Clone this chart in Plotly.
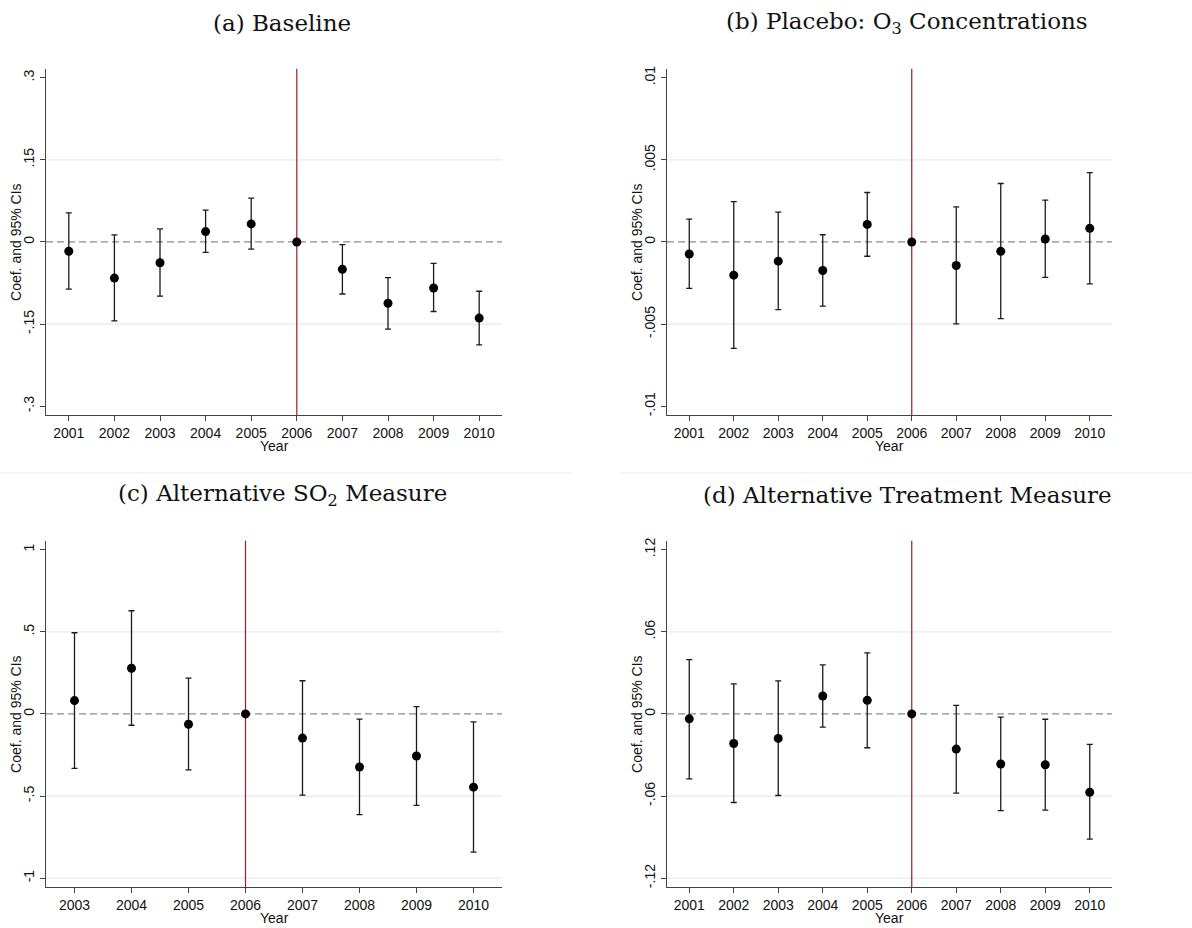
import plotly.graph_objects as go

# ---------------- data ----------------
# (a) Baseline
years_a = [2001, 2002, 2003, 2004, 2005, 2006, 2007, 2008, 2009, 2010]
coef_a = [-0.017, -0.066, -0.038, 0.019, 0.033, 0.0, -0.050, -0.112, -0.084, -0.139]
lo_a = [-0.086, -0.144, -0.099, -0.019, -0.013, 0.0, -0.095, -0.159, -0.127, -0.188]
hi_a = [0.053, 0.013, 0.024, 0.058, 0.080, 0.0, -0.005, -0.065, -0.039, -0.090]
ticks_a = [-0.3, -0.15, 0, 0.15, 0.3]
ticktext_a = ["-.3", "-.15", "0", ".15", ".3"]

# (b) Placebo: O3 concentrations
years_b = [2001, 2002, 2003, 2004, 2005, 2006, 2007, 2008, 2009, 2010]
coef_b = [-0.00073, -0.00202, -0.00117, -0.00174, 0.00107, 0.0, -0.00143, -0.00057, 0.00018, 0.00083]
lo_b = [-0.00283, -0.00648, -0.00412, -0.00390, -0.00087, 0.0, -0.00499, -0.00467, -0.00216, -0.00255]
hi_b = [0.00139, 0.00246, 0.00182, 0.00044, 0.00301, 0.0, 0.00214, 0.00356, 0.00255, 0.00422]
ticks_b = [-0.01, -0.005, 0, 0.005, 0.01]
ticktext_b = ["-.01", "-.005", "0", ".005", ".01"]

# (c) Alternative SO2 measure
years_c = [2003, 2004, 2005, 2006, 2007, 2008, 2009, 2010]
coef_c = [0.081, 0.278, -0.063, 0.0, -0.147, -0.323, -0.256, -0.446]
lo_c = [-0.331, -0.069, -0.341, 0.0, -0.494, -0.613, -0.557, -0.841]
hi_c = [0.494, 0.628, 0.218, 0.0, 0.202, -0.032, 0.044, -0.048]
ticks_c = [-1, -0.5, 0, 0.5, 1]
ticktext_c = ["-1", "-.5", "0", ".5", "1"]

# (d) Alternative treatment measure
years_d = [2001, 2002, 2003, 2004, 2005, 2006, 2007, 2008, 2009, 2010]
coef_d = [-0.0036, -0.0216, -0.0179, 0.0131, 0.0099, 0.0, -0.0257, -0.0366, -0.0371, -0.0572]
lo_d = [-0.0475, -0.0647, -0.0596, -0.0097, -0.0247, 0.0, -0.0579, -0.0707, -0.0703, -0.0915]
hi_d = [0.0397, 0.0220, 0.0242, 0.0358, 0.0446, 0.0, 0.0063, -0.0024, -0.0039, -0.0223]
ticks_d = [-0.12, -0.06, 0, 0.06, 0.12]
ticktext_d = ["-.12", "-.06", "0", ".06", ".12"]

titles = [
    "(a) Baseline",
    "(b) Placebo: O<sub>3</sub> Concentrations",
    "(c) Alternative SO<sub>2</sub> Measure",
    "(d) Alternative Treatment Measure",
]
event_year = 2006

# ---------------- layout geometry (pixels) ----------------
W, H = 1192, 928
panels = [
    dict(years=years_a, coef=coef_a, lo=lo_a, hi=hi_a, ticks=ticks_a, tt=ticktext_a,
         x0=46, x1=502, top=66, bot=414, tx=282, ty=20, ytx=16),
    dict(years=years_b, coef=coef_b, lo=lo_b, hi=hi_b, ticks=ticks_b, tt=ticktext_b,
         x0=667, x1=1112, top=66, bot=414, tx=907, ty=20, ytx=637),
    dict(years=years_c, coef=coef_c, lo=lo_c, hi=hi_c, ticks=ticks_c, tt=ticktext_c,
         x0=46, x1=502, top=540, bot=888, tx=282, ty=494, ytx=16),
    dict(years=years_d, coef=coef_d, lo=lo_d, hi=hi_d, ticks=ticks_d, tt=ticktext_d,
         x0=667, x1=1112, top=540, bot=888, tx=907, ty=494, ytx=637),
]

AX_FONT = dict(family="Liberation Sans, Arial, sans-serif", size=14, color="#111")
TITLE_FONT = dict(family="DejaVu Serif, serif", size=23, color="#111")
GRID = "#e4ecee"
AXIS = "#444"

fig = go.Figure()
shapes = []
annotations = []

for i, p in enumerate(panels):
    n = "" if i == 0 else str(i + 1)
    xa, ya = "x" + n, "y" + n
    top_tick = max(p["ticks"])
    pad = top_tick * 348.0 / 330.0

    err_plus = [h - c for h, c in zip(p["hi"], p["coef"])]
    err_minus = [c - l for c, l in zip(p["coef"], p["lo"])]

    fig.add_trace(go.Scatter(
        x=p["years"], y=p["coef"], mode="markers",
        marker=dict(color="black", size=9),
        error_y=dict(type="data", symmetric=False, array=err_plus, arrayminus=err_minus,
                     color="#1a1a1a", thickness=1.3, width=3),
        xaxis=xa, yaxis=ya, showlegend=False, hoverinfo="skip",
    ))

    fig.layout["xaxis" + n] = dict(
        domain=[p["x0"] / W, p["x1"] / W],
        range=[p["years"][0] - 0.5, p["years"][-1] + 0.5],
        tickmode="array", tickvals=p["years"], ticktext=[str(y) for y in p["years"]],
        ticks="outside", ticklen=5, tickwidth=1, tickcolor=AXIS,
        showline=True, linecolor=AXIS, linewidth=1.3,
        showgrid=False, zeroline=False, tickfont=AX_FONT,
        anchor=ya, fixedrange=True,
    )
    fig.layout["yaxis" + n] = dict(
        domain=[1 - p["bot"] / H, 1 - p["top"] / H],
        range=[-pad, pad],
        tickmode="array", tickvals=p["ticks"], ticktext=p["tt"], tickangle=-90,
        ticks="outside", ticklen=5, tickwidth=1, tickcolor=AXIS,
        showline=True, linecolor=AXIS, linewidth=1.3,
        showgrid=False, zeroline=False, tickfont=AX_FONT,
        anchor=xa, fixedrange=True,
    )

    # light horizontal grid lines at the inner ticks
    for t in p["ticks"]:
        if t != 0 and abs(t) != top_tick:
            shapes.append(dict(type="line", xref=xa + " domain", yref=ya, x0=0, x1=1, y0=t, y1=t,
                               line=dict(color=GRID, width=1.2), layer="below"))
    if i >= 2:
        shapes.append(dict(type="line", xref=xa + " domain", yref=ya, x0=0, x1=1,
                           y0=-top_tick, y1=-top_tick,
                           line=dict(color=GRID, width=1.2), layer="below"))
    # dashed zero reference line
    shapes.append(dict(type="line", xref=xa + " domain", yref=ya, x0=0, x1=1, y0=0, y1=0,
                       line=dict(color="#8a8a8a", width=1.2, dash="7px,4px"), layer="below"))
    # treatment year marker
    shapes.append(dict(type="line", xref=xa, yref=ya + " domain", x0=event_year, x1=event_year,
                       y0=0, y1=1, line=dict(color="#9a1e1e", width=1.2), layer="below"))

    annotations.append(dict(text=titles[i], x=p["tx"] / W, y=1 - p["ty"] / H,
                            xref="paper", yref="paper", xanchor="center", yanchor="middle",
                            showarrow=False, font=TITLE_FONT))
    annotations.append(dict(text="Year", x=(p["x0"] + p["x1"]) / 2 / W, y=1 - (p["bot"] + 31) / H,
                            xref="paper", yref="paper", xanchor="center", yanchor="middle",
                            showarrow=False, font=AX_FONT))
    annotations.append(dict(text="Coef. and 95% CIs", x=p["ytx"] / W,
                            y=1 - (p["top"] + p["bot"]) / 2 / H,
                            xref="paper", yref="paper", xanchor="center", yanchor="middle",
                            textangle=-90, showarrow=False, font=AX_FONT))

# faint separators between the rows
shapes.append(dict(type="line", xref="paper", yref="paper", x0=0, x1=572 / W,
                   y0=1 - 472 / H, y1=1 - 472 / H, line=dict(color="#e6ecee", width=1)))
shapes.append(dict(type="line", xref="paper", yref="paper", x0=620 / W, x1=1,
                   y0=1 - 472 / H, y1=1 - 472 / H, line=dict(color="#e6ecee", width=1)))

fig.update_layout(
    width=W, height=H, margin=dict(l=0, r=0, t=0, b=0),
    paper_bgcolor="white", plot_bgcolor="white",
    shapes=shapes, annotations=annotations, showlegend=False,
)

fig.write_html("out.html", config={"displayModeBar": False})
